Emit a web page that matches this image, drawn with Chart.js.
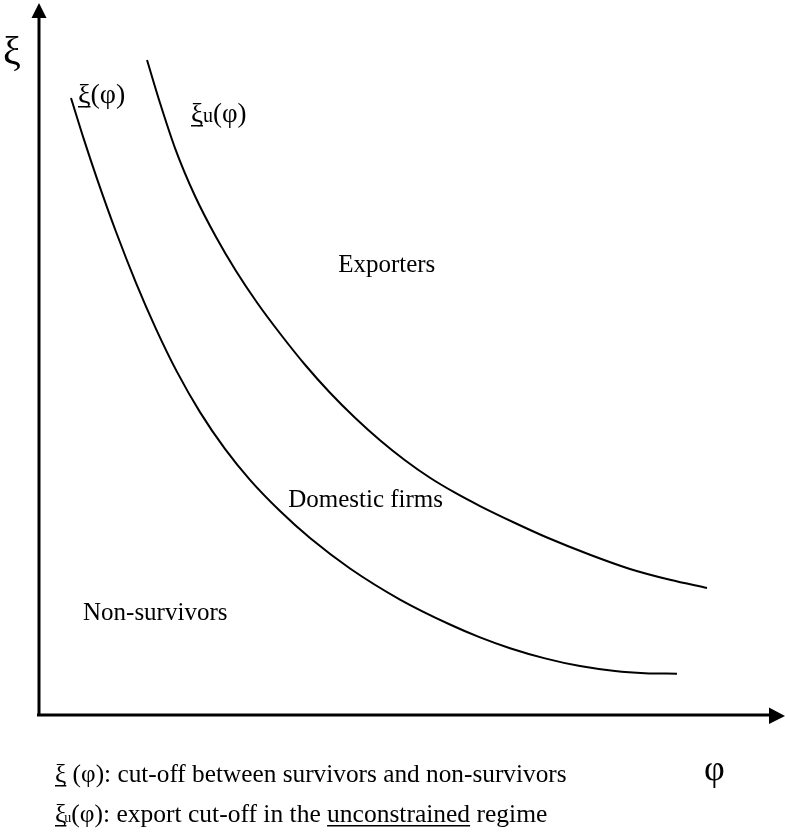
<!DOCTYPE html>
<html>
<head>
<meta charset="utf-8">
<script src="https://cdn.jsdelivr.net/npm/chart.js@4"></script>
<style>
  html, body { margin: 0; padding: 0; background: #fff; }
  canvas { display: block; }
</style>
</head>
<body>
<canvas id="cutoffs" width="785" height="838"></canvas>
<script>
// productivity (phi) and xi values, on a 0-100 scale
const survivalPhi = [4.29, 6.03, 7.77, 10.32, 13.00, 15.68, 18.50, 21.58, 24.93, 28.28, 32.31, 36.33, 41.69, 48.39, 55.09, 59.12, 63.14, 67.83, 72.52, 77.21, 81.23, 85.52];
const survivalXi  = [86.66, 80.81, 75.34, 67.87, 60.70, 54.24, 48.19, 42.54, 37.37, 33.02, 28.64, 24.85, 20.58, 16.22, 12.71, 10.90, 9.38, 7.95, 6.87, 6.18, 5.88, 5.80];
const exportPhi = [14.48, 16.22, 18.23, 20.91, 23.73, 26.41, 29.22, 32.31, 35.66, 39.01, 42.36, 45.71, 49.06, 52.41, 55.76, 59.12, 63.81, 68.10, 73.86, 79.22, 84.58, 89.54];
const exportXi  = [91.99, 85.96, 79.63, 72.89, 67.13, 62.36, 57.94, 53.58, 49.19, 45.26, 41.75, 38.59, 35.78, 33.32, 31.22, 29.35, 26.97, 24.93, 22.51, 20.51, 18.99, 17.84];

const regionNames = ["Exporters", "Domestic firms", "Non-survivors"];
const regionPhi = [40.1, 33.4, 5.9];
const regionXi  = [62.2, 29.2, 13.3];

const FONT = '"Liberation Serif", "Times New Roman", serif';

function toPoints(xs, ys) {
    return xs.map((x, i) => ({ x: x, y: ys[i] }));
}

// draws a run of text pieces, some underlined or smaller
function drawRich(ctx, x, y, parts) {
    parts.forEach(p => {
        ctx.font = p.size + 'px ' + FONT;
        const w = ctx.measureText(p.t).width;
        ctx.fillText(p.t, x, y);
        if (p.underline) {
            ctx.fillRect(x, y + 3, w, 1.5);
        }
        x += w + (p.gap || 0);
    });
}

const axesAndLabels = {
    id: 'axesAndLabels',
    afterDraw(chart) {
        const ctx = chart.ctx;
        const a = chart.chartArea;
        const xs = chart.scales.x, ys = chart.scales.y;
        ctx.save();
        ctx.fillStyle = '#000';
        ctx.strokeStyle = '#000';
        ctx.lineWidth = 3;

        // axes
        ctx.beginPath();
        ctx.moveTo(a.left, a.bottom);
        ctx.lineTo(a.left, a.top + 12);
        ctx.moveTo(a.left - 2, a.bottom);
        ctx.lineTo(a.right - 14, a.bottom);
        ctx.stroke();
        // arrow heads
        ctx.beginPath();
        ctx.moveTo(a.left, a.top);
        ctx.lineTo(a.left - 7.5, a.top + 15);
        ctx.lineTo(a.left + 7.5, a.top + 15);
        ctx.closePath();
        ctx.fill();
        ctx.beginPath();
        ctx.moveTo(a.right, a.bottom + 1);
        ctx.lineTo(a.right - 16, a.bottom - 7.5);
        ctx.lineTo(a.right - 16, a.bottom + 9);
        ctx.closePath();
        ctx.fill();

        // axis symbols
        ctx.textBaseline = 'alphabetic';
        ctx.font = '40px ' + FONT;
        ctx.fillText('ξ', 3, 64);
        ctx.font = '36px ' + FONT;
        ctx.fillText('φ', 704, 780);

        // region names
        ctx.font = '25px ' + FONT;
        regionNames.forEach((n, i) => {
            ctx.fillText(n, xs.getPixelForValue(regionPhi[i]), ys.getPixelForValue(regionXi[i]));
        });

        // curve names
        drawRich(ctx, 78, 103, [
            { t: 'ξ', size: 28, underline: true },
            { t: '(φ)', size: 28 }
        ]);
        drawRich(ctx, 191, 122, [
            { t: 'ξ', size: 27, underline: true },
            { t: 'u', size: 20 },
            { t: '(φ)', size: 27 }
        ]);

        // notes under the chart
        drawRich(ctx, 55, 782, [
            { t: 'ξ', size: 25.3, underline: true },
            { t: ' (φ): cut-off between survivors and non-survivors', size: 25.3 }
        ]);
        drawRich(ctx, 55, 822, [
            { t: 'ξ', size: 25.5, underline: true, gap: -2 },
            { t: 'u', size: 14 },
            { t: '(φ): export cut-off in the ', size: 25.5 },
            { t: 'unconstrained', size: 25.5, underline: true },
            { t: ' regime', size: 25.5 }
        ]);
        ctx.restore();
    }
};

new Chart(document.getElementById('cutoffs'), {
    type: 'scatter',
    data: {
        datasets: [
            {
                data: toPoints(survivalPhi, survivalXi),
                showLine: true,
                borderColor: '#000',
                borderWidth: 2,
                pointRadius: 0,
                cubicInterpolationMode: 'monotone'
            },
            {
                data: toPoints(exportPhi, exportXi),
                showLine: true,
                borderColor: '#000',
                borderWidth: 2,
                pointRadius: 0,
                cubicInterpolationMode: 'monotone'
            }
        ]
    },
    options: {
        responsive: false,
        animation: false,
        layout: { padding: { left: 39, right: 0, top: 3, bottom: 123 } },
        scales: {
            x: { type: 'linear', min: 0, max: 100, display: false },
            y: { type: 'linear', min: 0, max: 100, display: false }
        },
        plugins: {
            legend: { display: false },
            tooltip: { enabled: false }
        }
    },
    plugins: [axesAndLabels]
});
</script>
</body>
</html>
